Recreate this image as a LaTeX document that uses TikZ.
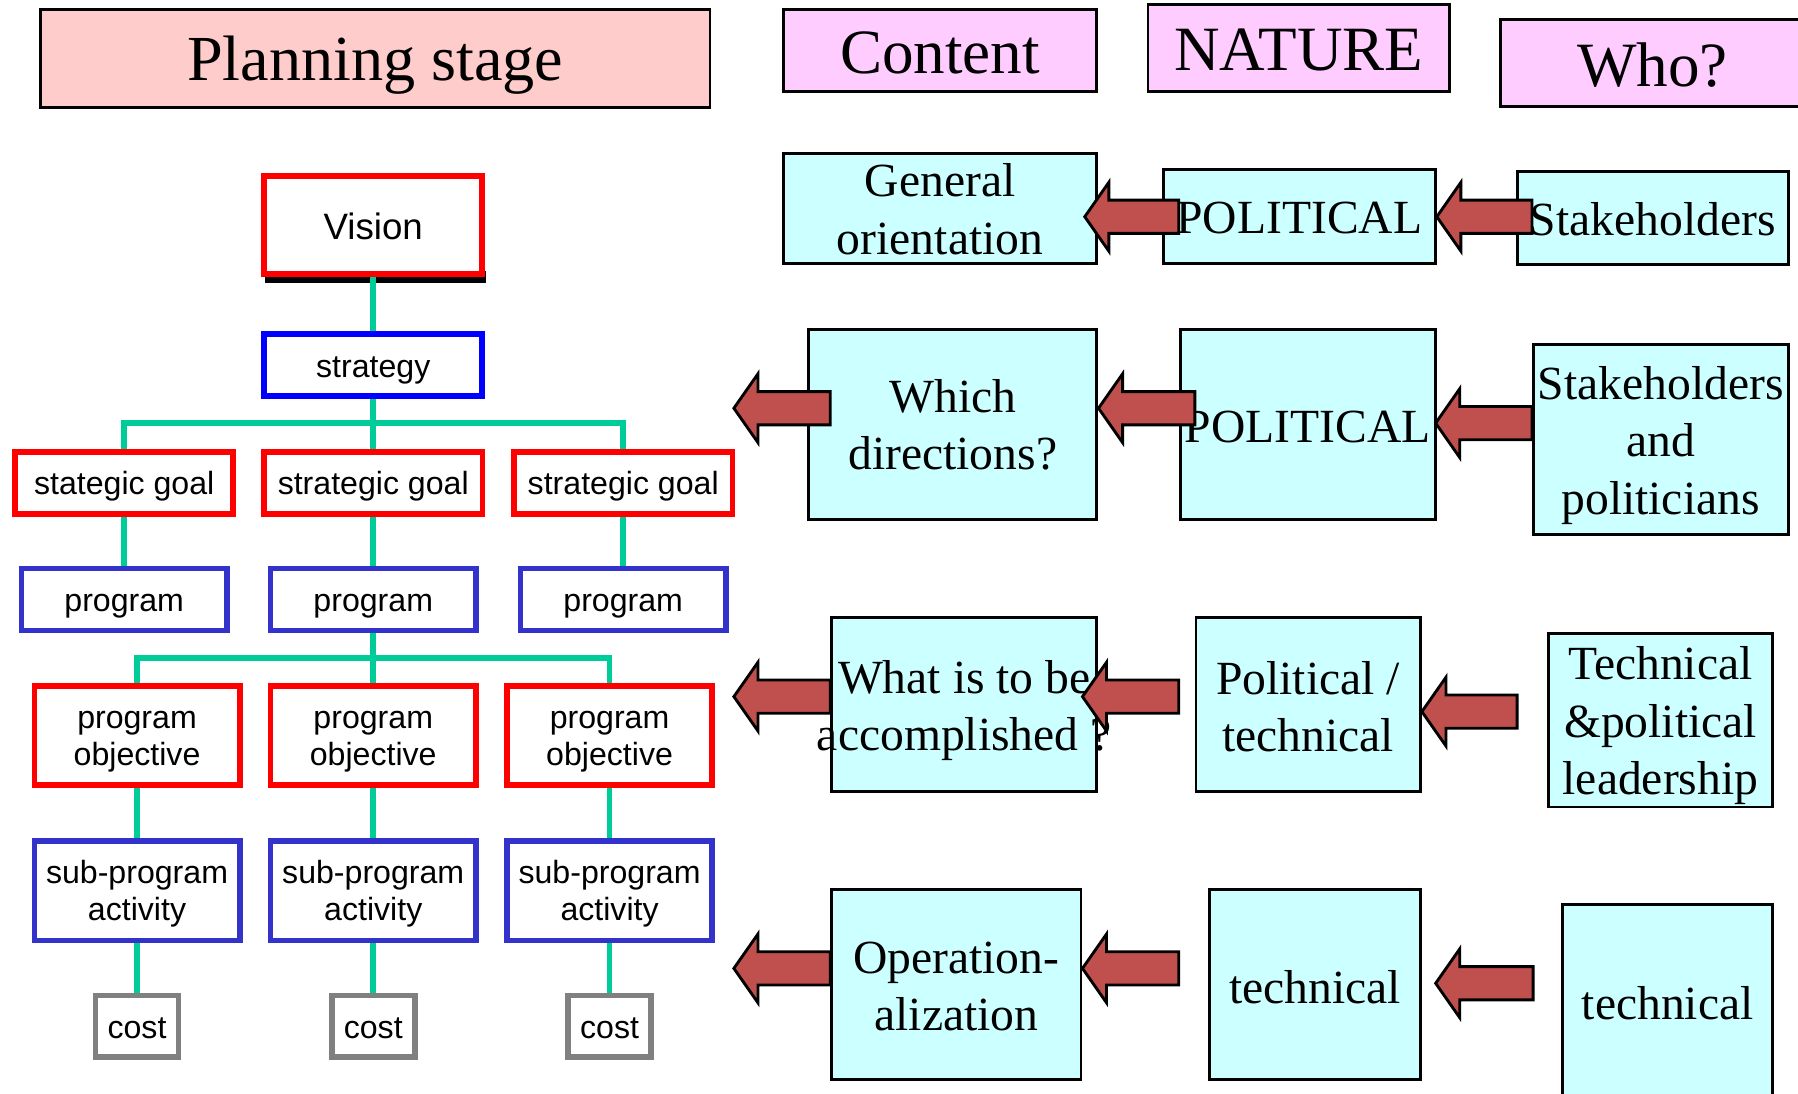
\documentclass[tikz,border=0pt]{standalone}
\usepackage{fontspec}
\setmainfont{Liberation Serif}
\setsansfont{Liberation Sans}
\definecolor{tred}{HTML}{FF0000}
\definecolor{tblue}{HTML}{0000FF}
\definecolor{tpurple}{HTML}{3333CC}
\definecolor{tgrey}{HTML}{808080}
\definecolor{tgreen}{HTML}{00CC99}
\definecolor{pinkfill}{HTML}{FFCCCC}
\definecolor{magfill}{HTML}{FFCCFF}
\definecolor{cyanfill}{HTML}{CCFFFF}
\definecolor{arrowred}{HTML}{C0504D}
\newcommand{\blkarrow}[3]{%
  \draw[blk] (#1,#2) -- (#1+21,#2-30) -- (#1+21,#2-14.5) -- (#3,#2-14.5)
    -- (#3,#2+14.5) -- (#1+21,#2+14.5) -- (#1+21,#2+30) -- cycle;}
\begin{document}
\begin{tikzpicture}[x=0.5pt,y=-0.5pt,
  treebox/.style={draw, line width=2.5pt, fill=white, inner sep=0pt},
  redbox/.style={treebox, draw=tred},
  bluebox/.style={treebox, draw=tblue},
  purplebox/.style={treebox, draw=tpurple},
  greybox/.style={treebox, draw=tgrey},
  ttxt/.style={inner sep=0pt, align=center, font=\sffamily\fontsize{14}{16}\selectfont},
  rbox/.style={draw=black, line width=1.25pt, fill=cyanfill, inner sep=0pt},
  rtxt/.style={inner sep=0pt, align=center, font=\fontsize{20.75}{25}\selectfont},
  hbox/.style={draw=black, line width=1.25pt, fill=magfill, inner sep=0pt},
  htxt/.style={inner sep=0pt, font=\fontsize{27.5}{30}\selectfont, text depth=0pt},
  conn/.style={draw=tgreen, line width=2.5pt},
  blk/.style={fill=arrowred, draw=black, line width=1.25pt, line join=miter}]
\useasboundingbox (0,0) rectangle (1568,954);
\clip (0,0) rectangle (1568,954);

% headers
\node[hbox, fill=pinkfill, minimum width=292pt, minimum height=42.6pt] (plan) at (327.2,51.2) {};
\node[htxt, font=\fontsize{28}{30}\selectfont] (plant) at (327.2,51.2) {Planning stage};
\node[hbox, minimum width=136.5pt, minimum height=35.5pt] (content) at (819.8,44) {};
\node[htxt] (contentt) at (819.8,46) {Content};
\node[hbox, minimum width=131.5pt, minimum height=37.7pt] (nature) at (1132.6,41.85) {};
\node[htxt] (naturet) at (1132.6,43.5) {NATURE};
\node[hbox, minimum width=132.6pt, minimum height=37.7pt] (who) at (1441,55) {};
\node[htxt] (whot) at (1441,56.5) {Who?};

% tree boxes
\fill[black] (231,236) rectangle (424,246.5);
\node[redbox, minimum width=95pt, minimum height=43pt] (vision) at (325.5,196.2) {};
\node[ttxt, font=\sffamily\fontsize{16}{18}\selectfont] (visiont) at (325.5,197.5) {Vision};
\node[bluebox, minimum width=95pt, minimum height=27pt] (strat) at (325.5,318.5) {};
\node[ttxt] (stratt) at (325.5,323) {strategy};
\node[redbox, minimum width=95.2pt, minimum height=27pt] (g1) at (108.3,421.1) {};
\node[redbox, minimum width=95.2pt, minimum height=27pt] (g2) at (325.5,421.1) {};
\node[redbox, minimum width=95.2pt, minimum height=27pt] (g3) at (543.5,421.1) {};
\node[ttxt] (g1t) at (108.3,424) {stategic goal};
\node[ttxt] (g2t) at (325.5,424) {strategic goal};
\node[ttxt] (g3t) at (543.5,424) {strategic goal};
\node[purplebox, minimum width=89.5pt, minimum height=27pt] (p1) at (108.3,522.8) {};
\node[purplebox, minimum width=89.5pt, minimum height=27pt] (p2) at (325.5,522.8) {};
\node[purplebox, minimum width=89.5pt, minimum height=27pt] (p3) at (543.5,522.8) {};
\node[ttxt] (p1t) at (108.3,528.5) {program};
\node[ttxt] (p2t) at (325.5,528.5) {program};
\node[ttxt] (p3t) at (543.5,528.5) {program};
\node[redbox, minimum width=89.5pt, minimum height=43pt] (o1) at (119.5,641.5) {};
\node[redbox, minimum width=89.5pt, minimum height=43pt] (o2) at (325.5,641.5) {};
\node[redbox, minimum width=89.5pt, minimum height=43pt] (o3) at (531.6,641.5) {};
\node[ttxt] (o1t) at (119.5,647) {program\\objective};
\node[ttxt] (o2t) at (325.5,647) {program\\objective};
\node[ttxt] (o3t) at (531.6,647) {program\\objective};
\node[purplebox, minimum width=89.5pt, minimum height=43.3pt] (s1) at (119.5,776.9) {};
\node[purplebox, minimum width=89.5pt, minimum height=43.3pt] (s2) at (325.5,776.9) {};
\node[purplebox, minimum width=89.5pt, minimum height=43.3pt] (s3) at (531.6,776.9) {};
\node[ttxt] (s1t) at (119.5,779.5) {sub-program\\activity};
\node[ttxt] (s2t) at (325.5,779.5) {sub-program\\activity};
\node[ttxt] (s3t) at (531.6,779.5) {sub-program\\activity};
\node[greybox, minimum width=36.2pt, minimum height=26.85pt] (c1) at (119.5,895) {};
\node[greybox, minimum width=36.2pt, minimum height=26.85pt] (c2) at (325.5,895) {};
\node[greybox, minimum width=36.2pt, minimum height=26.85pt] (c3) at (531.6,895) {};
\node[ttxt] (c1t) at (119.5,897) {cost};
\node[ttxt] (c2t) at (325.5,897) {cost};
\node[ttxt] (c3t) at (531.6,897) {cost};
\coordinate (bus1) at (325.5,369);
\coordinate (bus2) at (325.5,574);

% tree connectors
\draw[conn] (vision) -- (strat);
\draw[conn] (strat) -- (g2);
\draw[conn] (g1.north) |- (bus1) -| (g3.north);
\draw[conn] (g1) -- (p1);
\draw[conn] (g2) -- (p2);
\draw[conn] (g3) -- (p3);
\draw[conn] (p2) -- (o2);
\draw[conn] (o1.north) |- (bus2) -| (o3.north);
\draw[conn] (o1) -- (s1) -- (c1);
\draw[conn] (o2) -- (s2) -- (c2);
\draw[conn] (o3) -- (s3) -- (c3);

% right side boxes
\node[rbox, minimum width=136.55pt, minimum height=47.85pt] (genor) at (819.8,181.9) {};
\node[rtxt] (genort) at (819.8,182.5) {General\\orientation};
\node[rbox, minimum width=118.4pt, minimum height=40.85pt] (pol1) at (1133.15,188.9) {};
\node[rtxt] (pol1t) at (1133.15,190) {POLITICAL};
\node[rbox, minimum width=118.15pt, minimum height=40.75pt] (stk1) at (1441.2,190) {};
\node[rtxt] (stk1t) at (1441.2,191) {Stakeholders};
\node[rbox, minimum width=125.65pt, minimum height=82.8pt] (which) at (830.9,370.35) {};
\node[rtxt] (whicht) at (830.9,370.5) {Which\\directions?};
\node[rbox, minimum width=111.15pt, minimum height=82.8pt] (pol2) at (1140.4,370.35) {};
\node[rtxt] (pol2t) at (1140.4,372.5) {POLITICAL};
\node[rbox, minimum width=111.2pt, minimum height=82.75pt] (stk2) at (1448.15,383.4) {};
\node[rtxt] (stk2t) at (1448.15,388.5) {Stakeholders\\and\\politicians};
\node[rbox, minimum width=115.65pt, minimum height=75.8pt] (what) at (840.9,614.25) {};
\node[rtxt] (whatt) at (840.9,619.5) {What is to be\\accomplished ?};
\node[rbox, minimum width=97.75pt, minimum height=75.8pt] (poltech) at (1140.7,614.25) {};
\node[rtxt] (poltecht) at (1140.7,616.5) {Political /\\technical};
\node[rbox, minimum width=98pt, minimum height=75.75pt] (techpol) at (1448.05,628) {};
\node[rtxt] (techpolt) at (1448.05,633) {Technical\\\&political\\leadership};
\node[rbox, minimum width=108.75pt, minimum height=82.8pt] (oper) at (834,858.75) {};
\node[rtxt] (opert) at (834,860.5) {Operation-\\alization};
\node[rbox, minimum width=91.7pt, minimum height=82.8pt] (tech1) at (1146.75,858.75) {};
\node[rtxt] (tech1t) at (1146.75,861) {technical};
\node[rbox, minimum width=91.7pt, minimum height=84.85pt] (tech2) at (1454.35,873.9) {};
\node[rtxt] (tech2t) at (1454.35,874.5) {technical};

% block arrows
\blkarrow{946}{189}{1028}
\blkarrow{1253}{189}{1336}
\blkarrow{640}{356}{724}
\blkarrow{958}{356}{1042}
\blkarrow{1252}{369}{1336}
\blkarrow{640}{607.5}{724}
\blkarrow{944}{607.5}{1028}
\blkarrow{1240}{620.6}{1323}
\blkarrow{640}{844.5}{724}
\blkarrow{944}{844.5}{1028}
\blkarrow{1252}{857.5}{1337}
\end{tikzpicture}
\end{document}
